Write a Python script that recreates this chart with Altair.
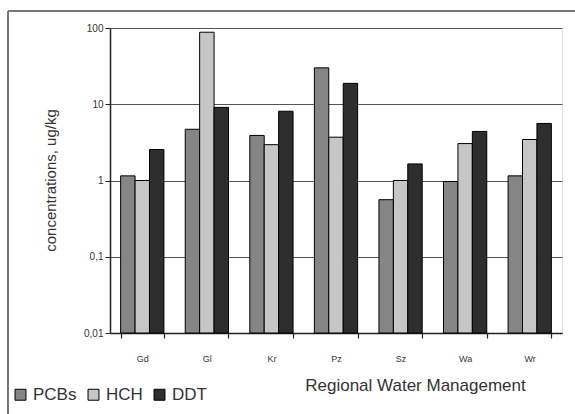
import altair as alt
import pandas as pd

regions = ["Gd", "Gl", "Kr", "Pz", "Sz", "Wa", "Wr"]
series = ["PCBs", "HCH", "DDT"]
pcbs = [1.15, 4.7, 3.9, 30.0, 0.56, 0.97, 1.15]
hch = [1.0, 88.0, 2.95, 3.7, 1.0, 3.05, 3.45]
ddt = [2.55, 9.1, 8.1, 18.8, 1.65, 4.4, 5.6]
colors = ["#858585", "#c6c6c6", "#2e2e2e"]
y_ticks = [0.01, 0.1, 1, 10, 100]

rows = []
for name, vals in zip(series, [pcbs, hch, ddt]):
    for r, v in zip(regions, vals):
        rows.append({"region": r, "series": name, "value": v, "base": 0.01})
df = pd.DataFrame(rows)

FONT = "Liberation Sans"

bars = alt.Chart(df).mark_bar(stroke="black", strokeWidth=1).encode(
    x=alt.X("region:N", sort=regions,
            scale=alt.Scale(paddingInner=0.33, paddingOuter=0.165),
            axis=alt.Axis(title="Regional Water Management", labelAngle=0,
                          labelFontSize=9, labelColor="#333", labelPadding=16,
                          labelFont=FONT,
                          tickBand="extent", tickSize=5, tickColor="#222",
                          tickWidth=1.2, domainColor="#222", domainWidth=1.5,
                          titleFontSize=17, titleFont=FONT,
                          titleFontWeight="normal", titleColor="#333",
                          titleX=305, titleY=57, titleAlign="center",
                          titleBaseline="alphabetic", grid=False)),
    xOffset=alt.XOffset("series:N", sort=series),
    y=alt.Y("value:Q",
            scale=alt.Scale(type="log", domain=[0.01, 100]),
            axis=alt.Axis(values=y_ticks, title="concentrations, ug/kg",
                          labelExpr="replace(format(datum.value, ''), '.', ',')",
                          labelFontSize=10, labelFont=FONT, labelColor="#333",
                          tickSize=5, tickColor="#222", domainColor="#222",
                          domainWidth=1.5, gridColor="#555", gridWidth=1,
                          grid=True, titleFontSize=15, titleFont=FONT,
                          titleFontWeight="normal",
                          titleColor="#333", titleX=-60, titleY=152,
                          titleAlign="center", titleBaseline="middle")),
    y2=alt.Y2("base:Q"),
    color=alt.Color("series:N", sort=series,
                    scale=alt.Scale(domain=series, range=colors),
                    legend=alt.Legend(title=None, orient="none", legendX=-98,
                                      legendY=358, direction="horizontal",
                                      symbolType="square", symbolSize=120,
                                      symbolStrokeColor="black",
                                      symbolStrokeWidth=1, labelFontSize=17,
                                      labelFont=FONT,
                                      labelColor="#333", columnPadding=8,
                                      labelOffset=4)),
)

frame_top = alt.Chart(df).mark_rule(color="#777", strokeWidth=1.5).encode(
    x=alt.value(-102), x2=alt.value(470), y=alt.value(-17))
frame_left = alt.Chart(df).mark_rule(color="#777", strokeWidth=1.5).encode(
    x=alt.value(-102), y=alt.value(-17), y2=alt.value(390))

chart = alt.layer(frame_top, frame_left, bars).properties(
    width=452, height=305,
    autosize=alt.AutoSizeParams(type="none"),
    padding={"left": 110, "top": 28, "right": 13, "bottom": 81},
).configure_view(stroke=None).configure(font=FONT)

chart.save("out.html", embed_options={"renderer": "svg", "actions": False})
